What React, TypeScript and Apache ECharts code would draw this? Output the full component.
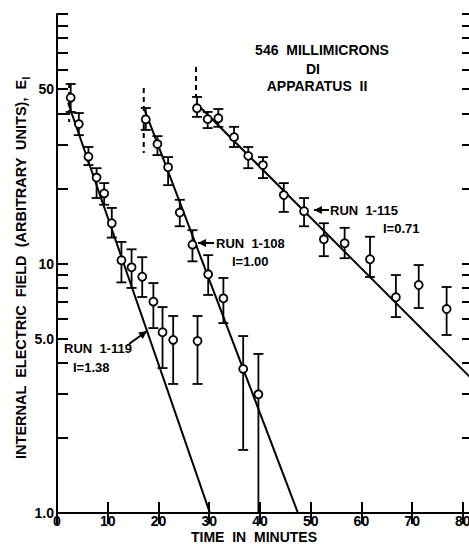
import React, { useEffect, useRef } from "react";
import * as echarts from "echarts";

// ---- axis ticks / labels ----
const xTickValues = [0, 10, 20, 30, 40, 50, 60, 70, 80];
const yTickValues = [1, 2, 3, 4, 5, 6, 7, 8, 9, 10, 20, 30, 40, 50, 60, 70, 80, 90, 100];
const yLabelValues = [1, 5, 10, 50];

// ---- Run 1-119 (I = 1.38) ----
const run119Time = [2.7, 4.3, 6.2, 7.8, 9.3, 10.8, 12.7, 14.7, 16.8, 19.0, 20.8, 22.9, 27.7];
const run119Field = [46.2, 36.2, 26.8, 22.1, 19.1, 14.5, 10.3, 9.65, 8.85, 7.03, 5.3, 4.94, 4.89];
const run119Low = [40.5, 32.7, 24.8, 18.3, 17.2, 12.7, 8.4, 7.98, 7.34, 5.51, 3.81, 3.29, 3.29];
const run119High = [52.4, 40.1, 29.3, 24.1, 21.0, 16.7, 12.2, 11.4, 10.6, 8.35, 6.69, 6.16, 6.16];

// ---- Run 1-108 (I = 1.00) ----
const run108Time = [17.5, 19.8, 21.9, 24.2, 26.7, 29.8, 32.8, 36.7, 39.7];
const run108Field = [37.8, 30.1, 24.3, 16.0, 11.9, 9.05, 7.25, 3.78, 2.99];
const run108Low = [34.3, 27.2, 20.6, 14.1, 10.2, 7.48, 5.77, 1.79, 1.0];
const run108High = [42.0, 32.4, 26.7, 18.0, 13.6, 10.8, 8.75, 5.12, 4.34];

// ---- Run 1-115 (I = 0.71) ----
const run115Time = [27.6, 29.7, 31.8, 34.9, 37.7, 40.6, 44.7, 48.7, 52.6, 56.7, 61.7, 66.8, 71.3, 76.8];
const run115Field = [41.9, 37.9, 38.2, 32.1, 27.0, 24.8, 18.8, 16.2, 12.5, 12.05, 10.4, 7.32, 8.2, 6.57];
const run115Low = [38.7, 34.9, 35.3, 29.3, 24.1, 22.0, 16.1, 14.1, 10.7, 10.5, 8.83, 6.1, 6.63, 5.17];
const run115High = [46.5, 40.5, 41.6, 35.3, 29.3, 26.7, 21.0, 18.3, 14.5, 13.9, 12.8, 8.99, 9.86, 8.05];

// ---- fitted decay lines ----
const fit119Time = [2.2, 30.15];
const fit119Field = [44.0, 1.0];
const fit108Time = [17.3, 47.5];
const fit108Field = [41.2, 1.0];
const fit115Time = [27.4, 82];
const fit115Field = [44.0, 3.41];

// ---- dashed start markers ----
const markerTime = [2.4, 17.1, 27.4];
const markerHigh = [52.9, 50.5, 61.3];
const markerLow = [36.9, 27.7, 46.5];

const FONT = '"Liberation Sans", Arial, sans-serif';

const zip2 = (a: number[], b: number[]) => a.map((v, i) => [v, b[i]]);
const zip3 = (a: number[], b: number[], c: number[]) => a.map((v, i) => [v, b[i], c[i]]);

function arrowHead(tip: [number, number], from: [number, number], len = 8, half = 4) {
  const dx = tip[0] - from[0];
  const dy = tip[1] - from[1];
  const n = Math.hypot(dx, dy);
  const ux = dx / n, uy = dy / n;
  const bx = tip[0] - ux * len, by = tip[1] - uy * len;
  return [
    [tip[0], tip[1]],
    [bx - uy * half, by + ux * half],
    [bx + uy * half, by - ux * half],
  ];
}

function arrow(from: [number, number], tip: [number, number]) {
  return [
    {
      type: "line",
      shape: { x1: from[0], y1: from[1], x2: tip[0], y2: tip[1] },
      style: { stroke: "#000", lineWidth: 2 },
    },
    {
      type: "polygon",
      shape: { points: arrowHead(tip, from) },
      style: { fill: "#000" },
    },
  ];
}

function label(text: string, x: number, y: number, align = "left", size = 13) {
  return {
    type: "text",
    x,
    y,
    style: {
      text,
      fill: "#000",
      font: `bold ${size}px ${FONT}`,
      textAlign: align,
      textVerticalAlign: "middle",
    },
  };
}

const errorBarRender = (params: any, api: any) => {
  const x = api.value(0);
  const lo = api.value(1);
  const hi = api.value(2);
  const pLo = api.coord([x, lo]);
  const pHi = api.coord([x, hi]);
  const w = 5;
  const st = { stroke: "#000", lineWidth: 1.8 };
  return {
    type: "group",
    children: [
      { type: "line", shape: { x1: pLo[0], y1: pLo[1], x2: pHi[0], y2: pHi[1] }, style: st },
      { type: "line", shape: { x1: pHi[0] - w, y1: pHi[1], x2: pHi[0] + w, y2: pHi[1] }, style: st },
      { type: "line", shape: { x1: pLo[0] - w, y1: pLo[1], x2: pLo[0] + w, y2: pLo[1] }, style: st },
    ],
  };
};

const markerRender = (params: any, api: any) => {
  const x = api.value(0);
  const p1 = api.coord([x, api.value(1)]);
  const p2 = api.coord([x, api.value(2)]);
  return {
    type: "line",
    shape: { x1: p1[0], y1: p1[1], x2: p2[0], y2: p2[1] },
    style: { stroke: "#000", lineWidth: 2, lineDash: [5, 4] },
  };
};

function lineSeries(t: number[], f: number[]) {
  return {
    type: "line",
    data: zip2(t, f),
    showSymbol: false,
    symbol: "none",
    lineStyle: { color: "#000", width: 2 },
    xAxisIndex: 0,
    yAxisIndex: 0,
    z: 2,
  };
}

function barSeries(t: number[], lo: number[], hi: number[]) {
  return {
    type: "custom",
    renderItem: errorBarRender,
    data: zip3(t, lo, hi),
    encode: { x: 0, y: [1, 2] },
    xAxisIndex: 0,
    yAxisIndex: 0,
    clip: false,
    z: 3,
  };
}

function pointSeries(t: number[], f: number[]) {
  return {
    type: "scatter",
    data: zip2(t, f),
    symbol: "circle",
    symbolSize: 8,
    itemStyle: { color: "#fff", borderColor: "#000", borderWidth: 1.8, opacity: 1 },
    xAxisIndex: 0,
    yAxisIndex: 0,
    z: 5,
  };
}

const log10 = (v: number) => Math.log10(v);

export default function App() {
  const ref = useRef<HTMLDivElement>(null);

  useEffect(() => {
    if (!ref.current) return;
    const chart = echarts.init(ref.current, undefined, { renderer: "svg" });
    const axisLabelStyle = {
      color: "#000",
      fontFamily: FONT,
      fontWeight: "bold" as const,
      fontSize: 14,
    };
    const option: any = {
      animation: false,
      backgroundColor: "#fff",
      grid: {
        left: 57,
        top: 14,
        width: 416,
        height: 499,
        containLabel: false,
        outerBoundsMode: "none",
      },
      xAxis: [
        {
          type: "value",
          position: "bottom",
          min: 0,
          max: 82,
          interval: 10,
          axisLine: { show: true, lineStyle: { color: "#000", width: 2 } },
          axisTick: { show: true, inside: true, length: 11, lineStyle: { color: "#000", width: 2 } },
          axisLabel: {
            ...axisLabelStyle,
            margin: 1,
            lineHeight: 13,
            formatter: (v: number) => (xTickValues.includes(v) ? String(v) : ""),
          },
          splitLine: { show: false },
        },
        {
          type: "value",
          position: "top",
          min: 0,
          max: 82,
          interval: 10,
          axisLine: { show: true, lineStyle: { color: "#000", width: 2 } },
          axisTick: { show: true, inside: true, length: 11, lineStyle: { color: "#000", width: 2 } },
          axisLabel: { show: false },
          splitLine: { show: false },
        },
      ],
      yAxis: [
        {
          type: "log",
          logBase: 10,
          min: 1,
          max: 100,
          position: "left",
          axisLine: { show: true, lineStyle: { color: "#000", width: 2 } },
          axisTick: { show: false },
          axisLabel: { show: false },
          splitLine: { show: false },
          minorTick: { show: false },
        },
        {
          type: "value",
          min: 0,
          max: 2,
          position: "left",
          axisLine: { show: false },
          axisTick: {
            show: true,
            inside: true,
            length: 11,
            customValues: yTickValues.map(log10),
            lineStyle: { color: "#000", width: 2 },
          },
          axisLabel: {
            ...axisLabelStyle,
            margin: 3,
            customValues: yLabelValues.map(log10),
            formatter: (v: number) => {
              const n = Math.round(Math.pow(10, v) * 100) / 100;
              return n < 10 ? n.toFixed(1) : String(Math.round(n));
            },
          },
          splitLine: { show: false },
        },
        {
          type: "value",
          min: 0,
          max: 2,
          position: "right",
          axisLine: { show: true, lineStyle: { color: "#000", width: 2 } },
          axisTick: {
            show: true,
            inside: true,
            length: 11,
            customValues: yTickValues.map(log10),
            lineStyle: { color: "#000", width: 2 },
          },
          axisLabel: { show: false },
          splitLine: { show: false },
        },
      ],
      series: [
        lineSeries(fit119Time, fit119Field),
        lineSeries(fit108Time, fit108Field),
        lineSeries(fit115Time, fit115Field),
        barSeries(run119Time, run119Low, run119High),
        barSeries(run108Time, run108Low, run108High),
        barSeries(run115Time, run115Low, run115High),
        {
          type: "custom",
          renderItem: markerRender,
          data: zip3(markerTime, markerHigh, markerLow),
          encode: { x: 0, y: [1, 2] },
          xAxisIndex: 0,
          yAxisIndex: 0,
          clip: false,
          z: 3,
        },
        pointSeries(run119Time, run119Field),
        pointSeries(run108Time, run108Field),
        pointSeries(run115Time, run115Field),
      ],
      graphic: [
        label("546  MILLIMICRONS", 322, 50, "center", 14),
        label("DI", 313, 69, "center", 14),
        label("APPARATUS  II", 317, 86, "center", 14),
        label("RUN  1-119", 64, 348, "left", 13),
        label("I=1.38", 73, 367, "left", 13),
        ...arrow([129, 344], [147, 331]),
        label("RUN  1-108", 216, 243, "left", 13),
        label("I=1.00", 232, 261, "left", 13),
        ...arrow([214, 243], [198, 243]),
        label("RUN  1-115", 330, 210, "left", 13),
        label("I=0.71", 383, 228, "left", 13),
        ...arrow([329, 210], [314, 210]),
        {
          type: "text",
          x: 254,
          y: 537,
          style: {
            text: "TIME  IN  MINUTES",
            fill: "#000",
            font: `bold 14px ${FONT}`,
            lineHeight: 13,
            textAlign: "center",
            textVerticalAlign: "middle",
          },
        },
        {
          type: "text",
          x: 21,
          y: 268,
          rotation: Math.PI / 2,
          style: {
            text: "{m|INTERNAL  ELECTRIC  FIELD  (ARBITRARY  UNITS),  E}{s|I}",
            textAlign: "center",
            textVerticalAlign: "middle",
            fill: "#000",
            rich: {
              m: {
                fontFamily: FONT,
                fontWeight: "bold",
                fontSize: 14.5,
                lineHeight: 20,
                verticalAlign: "middle",
              },
              s: {
                fontFamily: FONT,
                fontWeight: "bold",
                fontSize: 10,
                lineHeight: 10,
                verticalAlign: "bottom",
              },
            },
          },
        },
      ],
    };
    chart.setOption(option);
    return () => chart.dispose();
  }, []);

  return (
    <div
      ref={ref}
      style={{ position: "absolute", left: 0, top: 0, width: 469, height: 544, background: "#fff" }}
    />
  );
}
